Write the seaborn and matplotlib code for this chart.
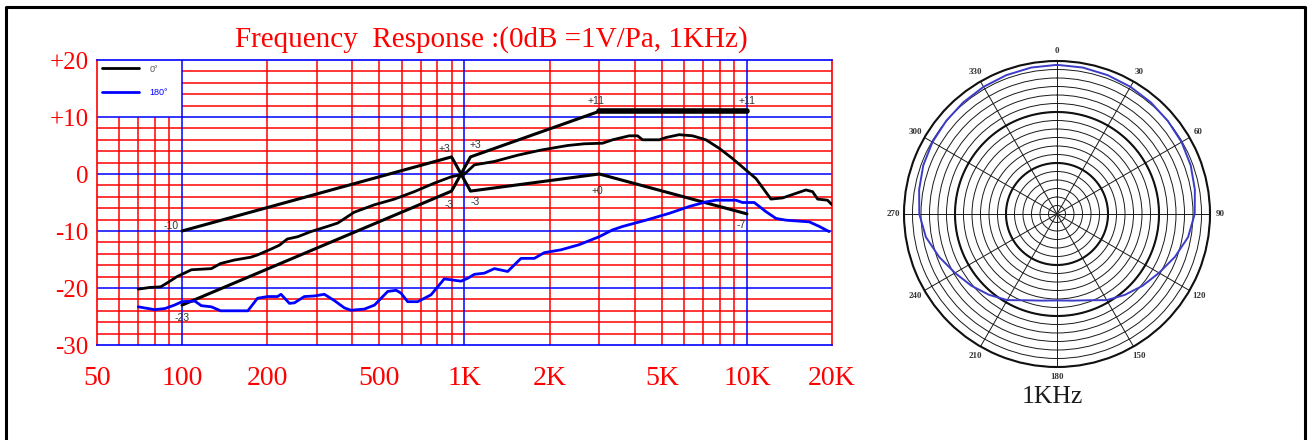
import numpy as np
import matplotlib
matplotlib.use("Agg")
import matplotlib.pyplot as plt
from matplotlib.patches import Rectangle
from matplotlib.lines import Line2D
from matplotlib.ticker import NullLocator
import seaborn as sns

# measured response on axis (Hz, dB)
freq_0 = [70, 77, 84, 88, 96, 108, 127, 137, 153, 175, 185, 206, 221, 236, 257, 286,
          327, 356, 407, 480, 565, 664, 782, 896, 1000, 1084, 1276, 1543, 1866, 2318,
          2656, 3081, 3344, 3830, 4100, 4270, 4893, 5167, 5756, 6417, 7157, 7980, 8895,
          9916, 10760, 12160, 13370, 14900, 16170, 17070, 17780, 19290, 20000]
db_0 = [-20.2, -19.9, -19.8, -19.2, -18.0, -16.8, -16.6, -15.7, -15.1, -14.6, -14.2, -13.2,
        -12.5, -11.4, -11.0, -10.1, -9.2, -8.6, -6.7, -5.4, -4.4, -3.1, -1.6, -0.5, 0.0,
        1.6, 2.2, 3.3, 4.2, 5.0, 5.3, 5.4, 6.0, 6.7, 6.7, 6.0, 6.0, 6.4, 6.9, 6.7, 6.0,
        4.5, 2.7, 0.7, -0.8, -4.4, -4.2, -3.4, -2.8, -3.1, -4.4, -4.6, -5.4]

# measured response from the rear (Hz, dB)
freq_180 = [70, 80, 87, 94, 100, 111, 117, 127, 137, 153, 171, 185, 201, 218, 224, 240,
            250, 271, 294, 319, 346, 376, 396, 442, 480, 535, 573, 596, 629, 683, 761,
            848, 972, 1026, 1084, 1175, 1276, 1422, 1585, 1767, 1916, 2196, 2547, 2998,
            3344, 3630, 4389, 5308, 6250, 7157, 7768, 9140, 9640, 10610, 11670, 12670,
            13740, 16630, 18030, 19530]
db_180 = [-23.3, -23.8, -23.6, -23.0, -22.4, -22.3, -23.1, -23.3, -24.0, -24.0, -24.0,
          -21.8, -21.5, -21.5, -21.1, -22.7, -22.6, -21.5, -21.4, -21.1, -22.2, -23.5,
          -23.9, -23.7, -23.0, -20.6, -20.4, -20.9, -22.4, -22.4, -21.2, -18.4, -18.8,
          -18.3, -17.6, -17.4, -16.6, -17.1, -14.8, -14.8, -13.8, -13.3, -12.4, -11.0,
          -9.8, -9.2, -8.1, -6.9, -5.7, -4.9, -4.6, -4.6, -5.0, -5.0, -6.6, -7.8, -8.1,
          -8.4, -9.2, -10.1]

# tolerance window
lim_freq = [100, 900, 1050, 3000, 10000]
lim_upper = [-10, 3, -3, 0, -7]
lim_lower = [-23, -3, 3, 11, 11]

# label offsets in pixels (dx, dy, ha) for each tolerance point
upper_offsets = [(-3, 5, 'right'), (-7, 8, 'center'), (5, -11, 'center'),
                 (-2, -17, 'center'), (-6, -11, 'center')]
lower_offsets = [(0, -13, 'center'), (-2, -14, 'center'), (5, 12, 'center'),
                 (-3, 10, 'center'), (0, 10, 'center')]

x_ticks = [50, 100, 200, 500, 1000, 2000, 5000, 10000, 20000]
x_labels = ['50', '100', '200', '500', '1K', '2K', '5K', '10K', '20K']
y_ticks = [20, 10, 0, -10, -20, -30]
y_labels = ['+20', '+10', '0', '-10', '-20', '-30']

# polar pattern at 1 kHz (degrees, relative radius)
polar_deg = [0, 10, 20, 30, 40, 50, 60, 70, 80, 90, 100, 110, 120, 130, 140, 150, 160,
             170, 180, 190, 200, 210, 220, 230, 240, 250, 260, 270, 280, 290, 300, 310,
             320, 330, 340, 350, 360]
polar_r = [0.975, 0.972, 0.966, 0.96, 0.953, 0.946, 0.94, 0.93, 0.915, 0.90, 0.87, 0.82,
           0.77, 0.73, 0.69, 0.65, 0.60, 0.575, 0.565, 0.575, 0.60, 0.65, 0.69, 0.73,
           0.77, 0.82, 0.87, 0.90, 0.915, 0.93, 0.94, 0.946, 0.953, 0.96, 0.966, 0.972,
           0.975]
polar_labels = ['0', '30', '60', '90', '120', '150', '180', '210', '240', '270', '300', '330']

sns.set_style("white")
plt.rcParams['font.family'] = ['Liberation Serif', 'DejaVu Serif']

W, H = 1310, 440
fig = plt.figure(figsize=(W / 100, H / 100), dpi=100)

# ---- frequency response ----
ax = fig.add_axes([97 / W, 1 - 345 / H, 735 / W, 285 / H])
ax.set_xscale('log')
ax.set_xlim(50, 20000)
ax.set_ylim(-30, 20)

red_f = [60, 70, 80, 90] + list(range(200, 1000, 100)) + list(range(2000, 10000, 1000))
for f in red_f:
    ax.axvline(f, color='red', lw=1.1, zorder=1)
for f in [100, 1000, 10000]:
    ax.axvline(f, color='blue', lw=1.1, zorder=2)
for y in range(-28, 20, 2):
    if y % 10:
        ax.axhline(y, color='red', lw=1.1, zorder=1)
    else:
        ax.axhline(y, color='blue', lw=1.1, zorder=2)

# blank cell behind the legend
ax.add_patch(Rectangle((50, 10), 50, 10, facecolor='white', edgecolor='none', zorder=1.5))

sns.lineplot(x=lim_freq, y=lim_upper, ax=ax, color='black', lw=2.2, zorder=3)
sns.lineplot(x=lim_freq, y=lim_lower, ax=ax, color='black', lw=2.2, zorder=3)
sns.lineplot(x=lim_freq[-2:], y=lim_lower[-2:], ax=ax, color='black', lw=4, zorder=3)
sns.lineplot(x=freq_0, y=db_0, ax=ax, color='black', lw=2.0, zorder=4, label='0°')
sns.lineplot(x=freq_180, y=db_180, ax=ax, color='blue', lw=2.0, zorder=4, label='180°')

for vals, offs in [(lim_upper, upper_offsets), (lim_lower, lower_offsets)]:
    for f, v, (dx, dy, ha) in zip(lim_freq, vals, offs):
        ax.annotate(f"{v:+d}", xy=(f, v), xytext=(dx * 0.72, dy * 0.72),
                    textcoords='offset points', ha=ha, va='center',
                    fontsize=7.5, color='#333333', family='Liberation Sans', zorder=5)

handles, labels = ax.get_legend_handles_labels()
leg = ax.legend(handles, labels, loc='upper left', frameon=False,
                prop={'family': 'Liberation Sans', 'size': 6.5},
                handlelength=4.2, handletextpad=1.1, labelspacing=1.6,
                borderaxespad=0.1, borderpad=0.4)
leg.get_texts()[0].set_color('#555555')
leg.get_texts()[1].set_color('blue')

ax.set_xticks(x_ticks)
ax.set_xticklabels(x_labels)
ax.xaxis.set_minor_locator(NullLocator())
ax.set_yticks(y_ticks)
ax.set_yticklabels(y_labels)
ax.tick_params(axis='x', length=0, pad=15, labelsize=20, colors='red')
ax.tick_params(axis='y', length=0, pad=6, labelsize=18, colors='red')
ax.set_xlabel('')
ax.set_ylabel('')
for side in ['top', 'bottom']:
    ax.spines[side].set_color('blue')
for side in ['left', 'right']:
    ax.spines[side].set_color('red')
for s in ax.spines.values():
    s.set_linewidth(1.2)
    s.set_visible(True)

fig.text(491 / W, 1 - 40 / H, 'Frequency  Response :(0dB =1V/Pa, 1KHz)',
         ha='center', va='center', color='red', fontsize=21)

# ---- polar pattern ----
ax2 = fig.add_axes([(1057 - 153) / W, (H - 214 - 153) / H, 306 / W, 306 / H],
                   projection='polar')
ax2.set_theta_zero_location('N')
ax2.set_theta_direction(-1)
ax2.set_ylim(0, 1)
ax2.set_thetagrids(range(0, 360, 30), labels=polar_labels, fontweight='bold')
ax2.set_rgrids(np.arange(1, 19) / 18)
ax2.set_yticklabels([])
ax2.grid(True, color='#1a1a1a', lw=0.7)
ring_t = np.linspace(0, 2 * np.pi, 300)
for r in (6 / 18, 12 / 18):
    ax2.plot(ring_t, np.full_like(ring_t, r), color='#111111', lw=1.5)
ax2.spines['polar'].set_linewidth(1.5)
ax2.spines['polar'].set_color('#111111')
ax2.tick_params(axis='x', pad=-3, labelsize=6.5, colors='#333333')

sns.lineplot(x=np.deg2rad(polar_deg), y=polar_r, ax=ax2, color='#3c3cc8', lw=1.4,
             sort=False, zorder=4)
ax2.set_xlabel('')
ax2.set_ylabel('')

fig.text(1052 / W, 1 - 397 / H, '1KHz', ha='center', va='center', fontsize=18.5,
         color='#1a1a1a')

# outer frame (open at the bottom)
x0, x1, y1 = 6 / W, 1305 / W, 1 - 7 / H
fig.add_artist(Line2D([x0, x0, x1, x1], [0, y1, y1, 0], transform=fig.transFigure,
                      color='black', lw=2.2))

fig.savefig('out.png', dpi=100)
